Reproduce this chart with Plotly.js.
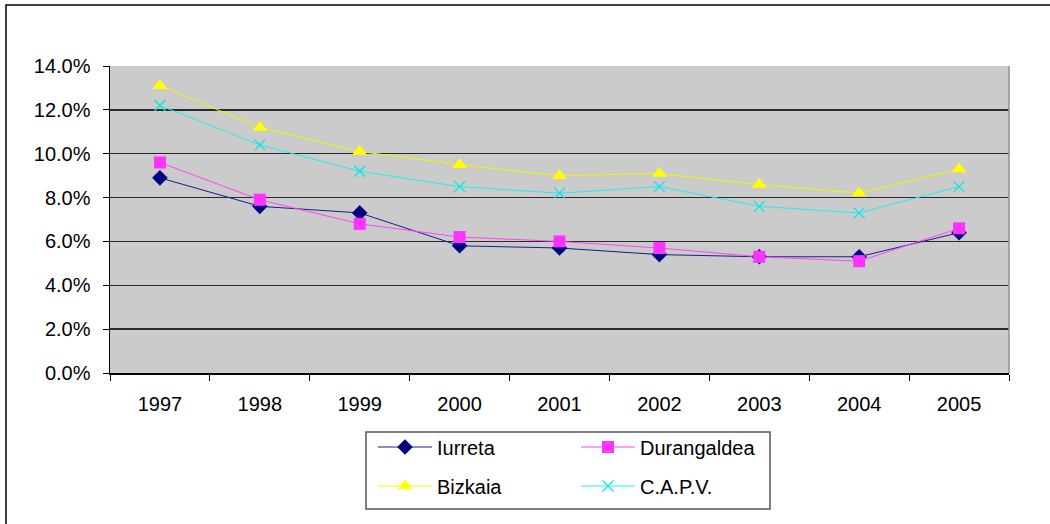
<!DOCTYPE html>
<html>
<head>
<meta charset="utf-8">
<script src="https://cdn.plot.ly/plotly-3.0.1.min.js"></script>
<style>html,body{margin:0;padding:0;background:#fff;}#chart{width:1050px;height:524px;}</style>
</head>
<body>
<div id="chart"></div>
<script>
var years = ["1997","1998","1999","2000","2001","2002","2003","2004","2005"];
var iurreta = [0.089, 0.076, 0.073, 0.058, 0.057, 0.054, 0.053, 0.053, 0.064];
var durangaldea = [0.096, 0.079, 0.068, 0.062, 0.060, 0.057, 0.053, 0.051, 0.066];
var bizkaia = [0.131, 0.112, 0.101, 0.095, 0.090, 0.091, 0.086, 0.082, 0.093];
var capv = [0.122, 0.104, 0.092, 0.085, 0.082, 0.085, 0.076, 0.073, 0.085];
var yTicks = [0, 0.02, 0.04, 0.06, 0.08, 0.10, 0.12, 0.14];

var FONT = "Liberation Sans, Arial, sans-serif";
var FS = 20;
var traces = [
  {name: "Iurreta", y: iurreta, legend: "legend",
   line: {color: "#1c1c8c", width: 1}, marker: {symbol: "diamond", size: 12, color: "#000080"}},
  {name: "Durangaldea", y: durangaldea, legend: "legend",
   line: {color: "#ff44ff", width: 1}, marker: {symbol: "square", size: 12, color: "#ff33ff"}},
  {name: "Bizkaia", y: bizkaia, legend: "legend2",
   line: {color: "#f5f500", width: 1}, marker: {symbol: "triangle-up", size: 13, color: "#ffff00"}},
  {name: "C.A.P.V.", y: capv, legend: "legend2",
   line: {color: "#22eeee", width: 1}, marker: {symbol: "x-thin", size: 11, color: "#00ffff", line: {color: "#00e8e8", width: 1.2}}}
].map(function (t) {
  t.x = years; t.type = "scatter"; t.mode = "lines+markers"; return t;
});

var legendBase = {
  orientation: "h", xanchor: "left", yanchor: "middle",
  font: {family: FONT, size: FS, color: "#000"},
  bgcolor: "rgba(0,0,0,0)", borderwidth: 0,
  itemwidth: 54, entrywidth: 134, entrywidthmode: "pixels",
  traceorder: "normal"
};
function px2x(p) { return (p - 110) / 899; }
function py2y(p) { return (373 - p) / 307; }

var layout = {
  width: 1050, height: 524,
  margin: {l: 110, r: 41, t: 66, b: 151},
  paper_bgcolor: "#ffffff",
  plot_bgcolor: "#cbcbcb",
  font: {family: FONT, size: FS, color: "#000"},
  showlegend: true,
  legend: Object.assign({}, legendBase, {x: px2x(373), y: py2y(447)}),
  legend2: Object.assign({}, legendBase, {x: px2x(373), y: py2y(486)}),
  xaxis: {
    type: "category", range: [-0.5, 8.5], tickvals: years, ticktext: years,
    showgrid: false, zeroline: false,
    showline: true, linecolor: "#000", linewidth: 1.5,
    ticks: "outside", tickson: "boundaries", ticklen: 6, tickcolor: "#000", tickwidth: 1,
    ticklabelstandoff: 12,
    tickfont: {family: FONT, size: FS, color: "#000"}
  },
  yaxis: {
    range: [0, 0.14], tickvals: yTicks, tickformat: ".1%",
    showgrid: true, gridcolor: "#2a2a2a", gridwidth: 1.5, zeroline: false,
    showline: true, linecolor: "#000", linewidth: 1.5,
    ticks: "outside", ticklen: 6, tickcolor: "#000", tickwidth: 1,
    ticklabelstandoff: 8,
    tickfont: {family: FONT, size: FS, color: "#000"}
  },
  shapes: [
    {type: "rect", xref: "paper", yref: "paper",
     x0: px2x(6), x1: px2x(1070), y0: py2y(540), y1: py2y(5),
     line: {color: "#000", width: 1.5}, fillcolor: "rgba(0,0,0,0)"},
    {type: "rect", xref: "paper", yref: "paper",
     x0: px2x(366), x1: px2x(770), y0: py2y(509), y1: py2y(432),
     line: {color: "#555", width: 1.5}, fillcolor: "rgba(0,0,0,0)"},
    {type: "line", xref: "paper", yref: "paper",
     x0: 1, x1: 1, y0: 0, y1: 1, line: {color: "#909090", width: 1.5}}
  ]
};

Plotly.newPlot("chart", traces, layout, {displayModeBar: false, staticPlot: true});
</script>
</body>
</html>
